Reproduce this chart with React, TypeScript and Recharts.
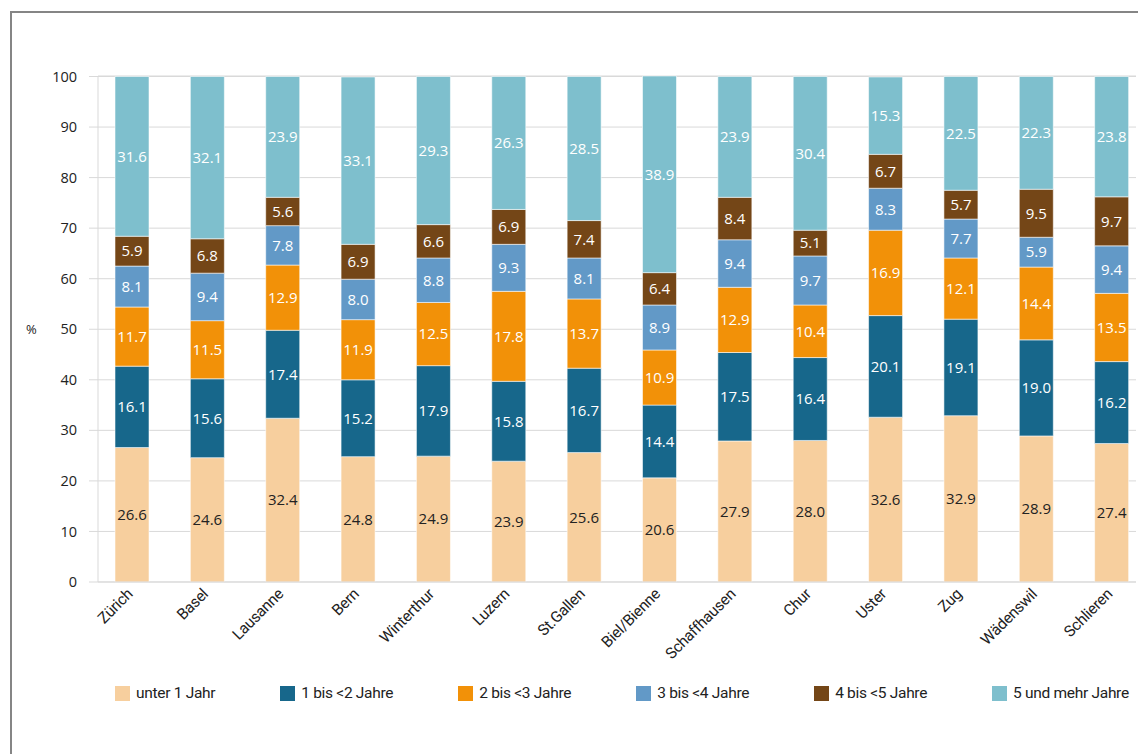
import { Bar, BarChart, CartesianGrid, LabelList, XAxis, YAxis } from 'recharts';

// ---------------------------------------------------------------------------
// Data
// ---------------------------------------------------------------------------

const cities = [
  'Zürich', 'Basel', 'Lausanne', 'Bern', 'Winterthur', 'Luzern', 'St.Gallen',
  'Biel/Bienne', 'Schaffhausen', 'Chur', 'Uster', 'Zug', 'Wädenswil', 'Schlieren',
];

const unter1 = [26.6, 24.6, 32.4, 24.8, 24.9, 23.9, 25.6, 20.6, 27.9, 28.0, 32.6, 32.9, 28.9, 27.4];
const bis2 = [16.1, 15.6, 17.4, 15.2, 17.9, 15.8, 16.7, 14.4, 17.5, 16.4, 20.1, 19.1, 19.0, 16.2];
const bis3 = [11.7, 11.5, 12.9, 11.9, 12.5, 17.8, 13.7, 10.9, 12.9, 10.4, 16.9, 12.1, 14.4, 13.5];
const bis4 = [8.1, 9.4, 7.8, 8.0, 8.8, 9.3, 8.1, 8.9, 9.4, 9.7, 8.3, 7.7, 5.9, 9.4];
const bis5 = [5.9, 6.8, 5.6, 6.9, 6.6, 6.9, 7.4, 6.4, 8.4, 5.1, 6.7, 5.7, 9.5, 9.7];
const mehr5 = [31.6, 32.1, 23.9, 33.1, 29.3, 26.3, 28.5, 38.9, 23.9, 30.4, 15.3, 22.5, 22.3, 23.8];

const yTicks = [0, 10, 20, 30, 40, 50, 60, 70, 80, 90, 100];
const boundaryTicks = [0, 1, 2, 3, 4, 5, 6, 7, 8, 9, 10, 11, 12, 13, 14];

const series = [
  { key: 'u1', name: 'unter 1 Jahr', values: unter1, color: '#F7CF9E', text: '#222222' },
  { key: 'b2', name: '1 bis <2 Jahre', values: bis2, color: '#17678B', text: '#ffffff' },
  { key: 'b3', name: '2 bis <3 Jahre', values: bis3, color: '#F29108', text: '#ffffff' },
  { key: 'b4', name: '3 bis <4 Jahre', values: bis4, color: '#6299C7', text: '#ffffff' },
  { key: 'b5', name: '4 bis <5 Jahre', values: bis5, color: '#744617', text: '#ffffff' },
  { key: 'm5', name: '5 und mehr Jahre', values: mehr5, color: '#7EBFCD', text: '#ffffff' },
];

const rows = cities.map((city, i) => {
  const row: Record<string, string | number> = { city };
  series.forEach((s) => (row[s.key] = s.values[i]));
  return row;
});

// ---------------------------------------------------------------------------
// Pieces
// ---------------------------------------------------------------------------

const GRID = '#d9d9d9';
const NUM_FONT = '"Open Sans", sans-serif';
const TXT_FONT = 'Roboto, sans-serif';

const CityTick = (props: any) => {
  const { x, y, payload } = props;
  const ax = x + 2;
  const ay = y + 11;
  return (
    <text
      x={ax}
      y={ay}
      transform={`rotate(-45 ${ax} ${ay})`}
      textAnchor="end"
      fontFamily={TXT_FONT}
      fontSize={15.5}
      letterSpacing={-0.3}
      fill="#222"
    >
      {payload.value}
    </text>
  );
};

const App = () => {
  return (
    <div style={{ position: 'fixed', left: 0, top: 0, width: 1138, height: 754, overflow: 'hidden', background: '#fff' }}>
      <div
        style={{
          position: 'absolute',
          left: 10,
          top: 11,
          width: 1300,
          height: 900,
          border: '2px solid #858585',
        }}
      />
      <div style={{ position: 'absolute', left: 0, top: 0 }}>
        <BarChart
          width={1138}
          height={754}
          data={rows}
          margin={{ top: 76, right: 2, bottom: 142, left: 38 }}
          barSize={34}
        >
          <CartesianGrid stroke={GRID} vertical={false} />
          <XAxis
            xAxisId="edges"
            type="number"
            domain={[0, 14]}
            ticks={boundaryTicks}
            padding={{ left: -4, right: -13 }}
            height={0}
            axisLine={false}
            tick={false}
            tickLine={{ stroke: GRID }}
            tickSize={6}
          />
          <XAxis
            dataKey="city"
            padding={{ left: -4, right: -13 }}
            height={30}
            axisLine={{ stroke: GRID }}
            tickLine={false}
            tickSize={0}
            interval={0}
            tick={<CityTick />}
          />
          <YAxis
            width={60}
            domain={[0, 100]}
            ticks={yTicks}
            axisLine={{ stroke: GRID }}
            tickLine={{ stroke: GRID }}
            tickSize={9}
            tickMargin={12}
            tick={{ fill: '#222', fontSize: 14.5, fontFamily: NUM_FONT }}
            label={{ value: '%', position: 'insideLeft', offset: -12, fill: '#222', fontSize: 13, fontFamily: NUM_FONT }}
          />
          <YAxis
            yAxisId="frame"
            orientation="right"
            width={0}
            axisLine={{ stroke: GRID }}
            tick={false}
            tickLine={false}
          />
          {series.map((s) => (
            <Bar
              key={s.key}
              dataKey={s.key}
              name={s.name}
              stackId="a"
              fill={s.color}
              stroke="rgba(255,255,255,0.55)"
              strokeWidth={1}
              isAnimationActive={false}
            >
              <LabelList
                dataKey={s.key}
                position="center"
                fill={s.text}
                fontSize={15}
                fontFamily={NUM_FONT}
                formatter={(v: any) => Number(v).toFixed(1)}
              />
            </Bar>
          ))}
        </BarChart>
      </div>
      <div
        style={{
          position: 'absolute',
          left: 115,
          top: 684,
          display: 'flex',
          gap: 65,
          fontFamily: TXT_FONT,
          fontSize: 15.5,
          letterSpacing: -0.3,
          color: '#222',
          whiteSpace: 'nowrap',
        }}
      >
        {series.map((s) => (
          <div key={s.key} style={{ display: 'flex', alignItems: 'center' }}>
            <span style={{ display: 'inline-block', width: 15, height: 15, background: s.color, marginRight: 6 }} />
            <span>{s.name}</span>
          </div>
        ))}
      </div>
    </div>
  );
};

export default App;
